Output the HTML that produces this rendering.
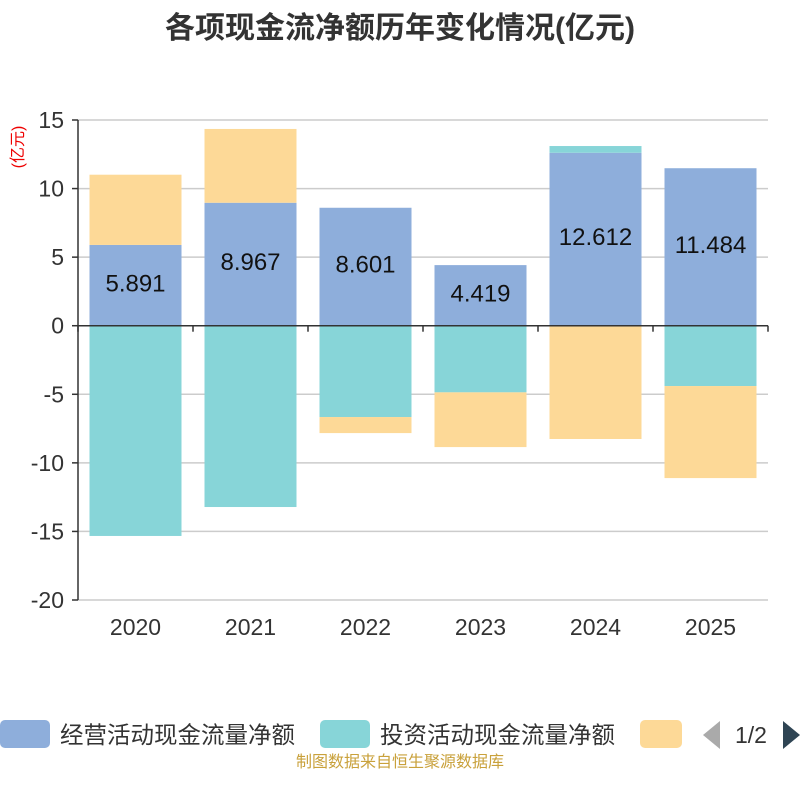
<!DOCTYPE html>
<html><head><meta charset="utf-8"><style>
body{margin:0;background:#fff;width:800px;height:800px;overflow:hidden;font-family:"Liberation Sans","Noto Sans CJK SC",sans-serif}
</style></head><body>
<svg id="c" width="800" height="800" xmlns="http://www.w3.org/2000/svg">
<text x="400" y="38" text-anchor="middle" font-size="30" font-weight="bold" fill="#333" font-family="Liberation Sans,Noto Sans CJK SC,sans-serif">各项现金流净额历年变化情况(亿元)</text>
<text transform="translate(23,147) rotate(-90)" text-anchor="middle" font-size="16" fill="#e00" font-family="Liberation Sans,Noto Sans CJK SC,sans-serif">(亿元)</text>
<g id="grid"></g><g id="bars"></g><g id="axes"></g>
<g>
<rect x="0" y="720" width="50" height="28" rx="5" fill="#8eaedb"/>
<text x="60" y="743" font-size="23.5" fill="#333" font-family="Liberation Sans,Noto Sans CJK SC,sans-serif">经营活动现金流量净额</text>
<rect x="320" y="720" width="50" height="28" rx="5" fill="#87d5d8"/>
<text x="380" y="743" font-size="23.5" fill="#333" font-family="Liberation Sans,Noto Sans CJK SC,sans-serif">投资活动现金流量净额</text>
<rect x="640" y="720" width="42" height="28" rx="5" fill="#fdd997"/>
<polygon points="720,721 720,749 703,735" fill="#aaa"/>
<text x="751" y="743" text-anchor="middle" font-size="23" fill="#333">1/2</text>
<polygon points="783,721 783,749 800,735" fill="#2f4554"/>
</g>
<text x="400" y="767" text-anchor="middle" font-size="16" fill="#c9a13b" font-family="Liberation Sans,Noto Sans CJK SC,sans-serif">制图数据来自恒生聚源数据库</text>
</svg>
<script>
const categories=["2020","2021","2022","2023","2024","2025"];
const operating=[5.891,8.967,8.601,4.419,12.612,11.484];
const investing=[-15.33,-13.22,-6.66,-4.86,0.49,-4.40];
const financing=[5.12,5.38,-1.17,-3.99,-8.26,-6.71];
const yTicks=[15,10,5,0,-5,-10,-15,-20];
const NS="http://www.w3.org/2000/svg";
const x0=78,x1=768,yTop=120,yBot=600,yMax=15,yMin=-20;
const y=v=>yTop+(yMax-v)/(yMax-yMin)*(yBot-yTop);
const bw=(x1-x0)/categories.length;
function mk(t,a,p){const e=document.createElementNS(NS,t);for(const k in a)e.setAttribute(k,a[k]);p.appendChild(e);return e;}
const grid=document.getElementById('grid'),bars=document.getElementById('bars'),axes=document.getElementById('axes');
yTicks.forEach(v=>{
 const l=mk('line',{x1:x0,x2:x1,y1:y(v),y2:y(v),stroke:'#ccc','stroke-width':1.5},grid);
 
 
 const t=mk('text',{x:x0-14,y:y(v)+8,'text-anchor':'end','font-size':23,fill:'#333'},axes);
 t.textContent=v;
 
 
 mk('line',{x1:x0-6,x2:x0,y1:y(v),y2:y(v),stroke:'#333','stroke-width':1.5},axes);
});
const series=[[operating,'#8eaedb','bar-operating'],[investing,'#87d5d8','bar-investing'],[financing,'#fdd997','bar-financing']];
categories.forEach((c,i)=>{
 let pos=0,neg=0;const bx=x0+i*bw+(bw-92)/2;
 series.forEach(([arr,col,nm])=>{
  const v=arr[i];let a,b;
  if(v>=0){a=pos;b=pos+v;pos=b;}else{a=neg;b=neg+v;neg=b;}
  const top=y(Math.max(a,b)),h=Math.abs(y(a)-y(b));
  const r=mk('rect',{x:bx,y:top,width:92,height:h,fill:col},bars);
  
  
 });
 const lt=mk('text',{x:bx+46,y:y(operating[i]/2)+6,'text-anchor':'middle','font-size':24,fill:'#111'},bars);
 lt.textContent=operating[i].toFixed(3);
 
 
 const xt=mk('text',{x:x0+i*bw+bw/2,y:635,'text-anchor':'middle','font-size':23,fill:'#333'},axes);
 xt.textContent=c;
 
 
});
for(let i=0;i<=categories.length;i++)mk('line',{x1:x0+i*bw,x2:x0+i*bw,y1:y(0),y2:y(0)+6,stroke:'#333','stroke-width':1.5},axes);
const ya=mk('line',{x1:x0,x2:x0,y1:yTop,y2:yBot,stroke:'#333','stroke-width':1.5},axes);


const xa=mk('line',{x1:x0,x2:x1,y1:y(0),y2:y(0),stroke:'#333','stroke-width':1.5},axes);


</script>
</body></html>
